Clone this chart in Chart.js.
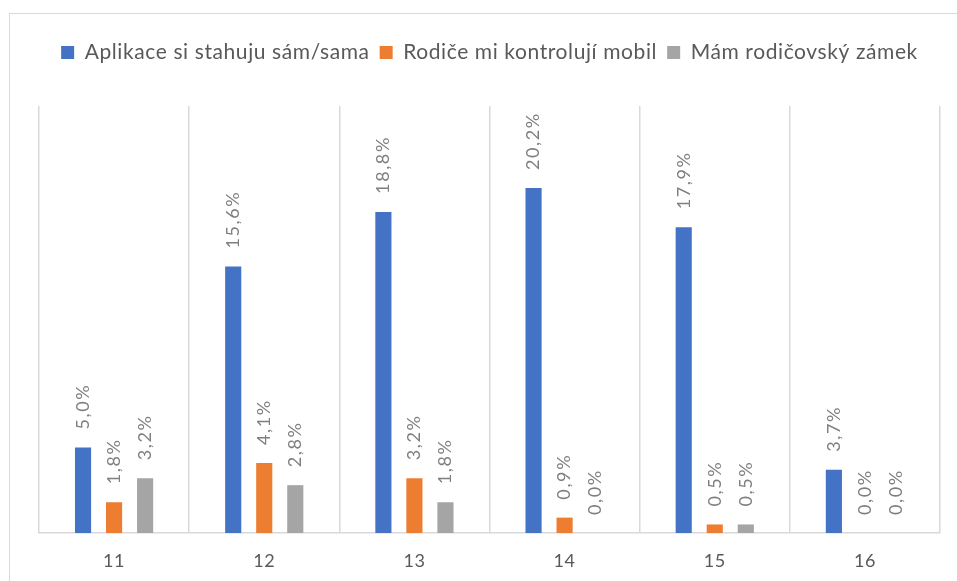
<!DOCTYPE html>
<html><head><meta charset="utf-8">
<script src="https://cdn.jsdelivr.net/npm/chart.js@4"></script>
<style>
html,body{margin:0;padding:0;background:#fff;overflow:hidden;width:957px;height:581px}
#frame{position:absolute;left:9px;top:13px;width:1000px;height:700px;border:1px solid #d9d9d9;box-sizing:border-box}
#wrap{position:absolute;left:0;top:0;width:957px;height:581px}
</style></head><body>
<div id="frame"></div>
<div id="wrap"><canvas id="c" width="957" height="581"></canvas></div>
<script>
const categories = ['11','12','13','14','15','16'];
const seriesNames = ['Aplikace si stahuju sám/sama','Rodiče mi kontrolují mobil','Mám rodičovský zámek'];
const appsSelf = [5.0, 15.6, 18.8, 20.2, 17.9, 3.7];
const parentsCheck = [1.8, 4.1, 3.2, 0.9, 0.5, 0.0];
const parentalLock = [3.2, 2.8, 1.8, 0.0, 0.5, 0.0];
const colors = ['#4472C4', '#ED7D31', '#A5A5A5'];
const yMax = 25;

const FONT = 'Lato, "Open Sans", sans-serif';
const BASE_SPACING = '0.6px';

const spacingPlugin = {
  id: 'spacing',
  beforeUpdate(chart) { chart.ctx.letterSpacing = BASE_SPACING; },
  beforeLayout(chart) { chart.ctx.letterSpacing = BASE_SPACING; },
  beforeDraw(chart) { chart.ctx.letterSpacing = BASE_SPACING; }
};

const labelPlugin = {
  id: 'vlabels',
  afterDatasetsDraw(chart) {
    const ctx = chart.ctx;
    chart.data.datasets.forEach((ds, di) => {
      const meta = chart.getDatasetMeta(di);
      meta.data.forEach((bar, i) => {
        const txt = ds.data[i].toFixed(1).replace('.', ',') + '%';
        ctx.save();
        ctx.translate(bar.x, bar.y - 18);
        ctx.rotate(-Math.PI / 2);
        ctx.font = '18px ' + FONT;
        ctx.letterSpacing = '1.6px';
        ctx.fillStyle = '#7f7f7f';
        ctx.textAlign = 'left';
        ctx.textBaseline = 'middle';
        ctx.fillText(txt, 0, 0);
        ctx.restore();
      });
    });
  }
};

const legendSpace = {
  id: 'legendSpace',
  beforeInit(chart) {
    const origFit = chart.legend.fit;
    chart.legend.fit = function () {
      origFit.bind(chart.legend)();
      this.height += 33;
    };
  }
};

new Chart(document.getElementById('c'), {
  type: 'bar',
  data: {
    labels: categories,
    datasets: [
      { label: seriesNames[0], data: appsSelf, backgroundColor: colors[0] },
      { label: seriesNames[1], data: parentsCheck, backgroundColor: colors[1] },
      { label: seriesNames[2], data: parentalLock, backgroundColor: colors[2] }
    ]
  },
  options: {
    responsive: false,
    animation: false,
    events: [],
    layout: { padding: { left: 39, right: 17, top: 32, bottom: 0 } },
    datasets: { bar: { categoryPercentage: 0.62, barPercentage: 0.52 } },
    plugins: {
      legend: {
        position: 'top',
        labels: {
          boxWidth: 13, boxHeight: 13, padding: 10,
          color: '#595959',
          font: { family: FONT, size: 21 }
        }
      },
      tooltip: { enabled: false }
    },
    scales: {
      x: {
        grid: { color: '#d9d9d9', lineWidth: 1.5, drawTicks: false, offset: true },
        border: { color: '#d9d9d9', width: 1.5 },
        ticks: { color: '#595959', padding: 17, font: { family: FONT, size: 18 } },
        afterFit(scale) { scale.height = 48; }
      },
      y: { display: false, min: 0, max: yMax }
    }
  },
  plugins: [spacingPlugin, labelPlugin, legendSpace]
});
</script>
</body></html>
